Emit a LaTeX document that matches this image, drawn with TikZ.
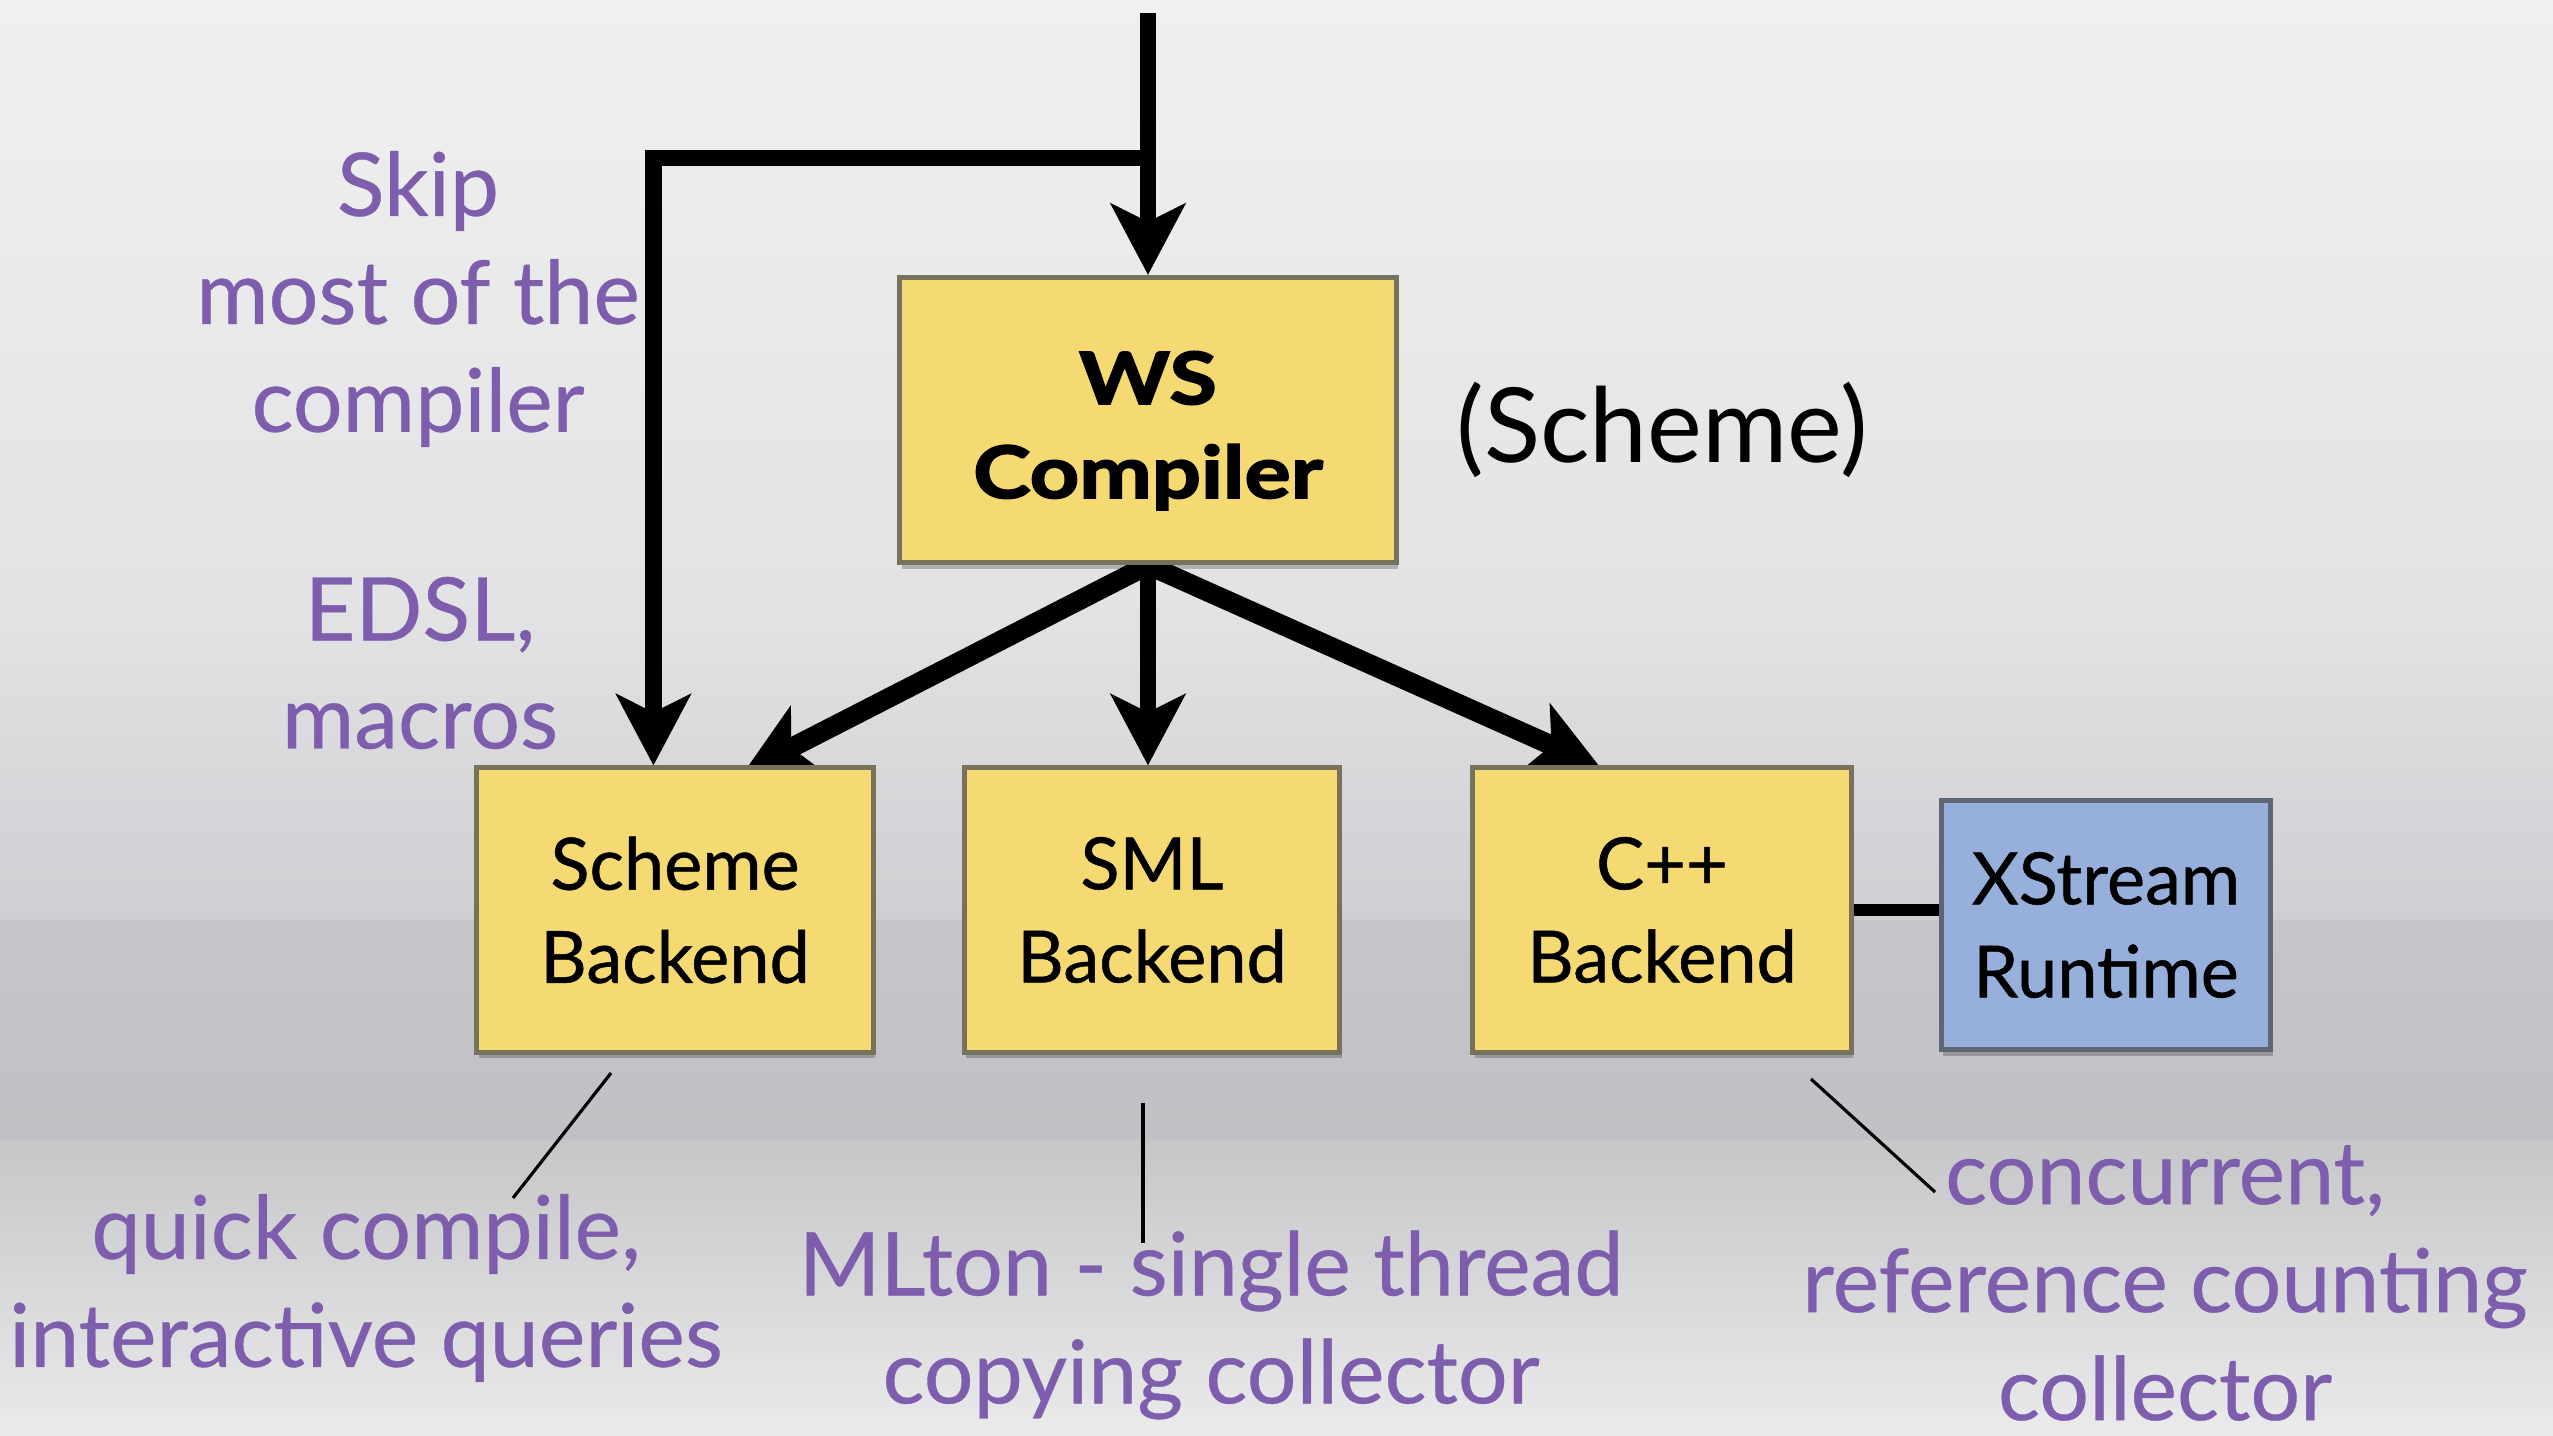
\documentclass[tikz,border=0pt]{standalone}
\usepackage{fontspec}
\setmainfont{Lato}
\newfontfamily\wsfont[FakeStretch=1.2,FakeBold=2.5]{Lato}
\newfontfamily\boxfont[FakeBold=0.7]{Lato}
\newfontfamily\notefont[FakeBold=0.4]{Lato}
\usetikzlibrary{arrows.meta,shadows,calc}

\definecolor{bgA}{HTML}{F0F0F0}
\definecolor{bgB}{HTML}{E3E3E5}
\definecolor{bgC}{HTML}{CFCFD3}
\definecolor{bgD}{HTML}{C6C6CA}
\definecolor{bgE}{HTML}{C1C1C5}
\definecolor{bgF}{HTML}{C7C7CA}
\definecolor{bgG}{HTML}{EAEAEB}
\definecolor{boxyellow}{HTML}{F5D973}
\definecolor{boxedge}{HTML}{77725C}
\definecolor{rtblue}{HTML}{97B0DB}
\definecolor{rtedge}{HTML}{5E6573}
\definecolor{notepurple}{RGB}{126,94,172}

\pgfdeclarelayer{backdrop}
\pgfdeclarelayer{wires}
\pgfsetlayers{backdrop,wires,main}

\begin{document}
\begin{tikzpicture}[x=0.01cm, y=-0.01cm,
  box/.style={draw=boxedge, line width=1.4pt, fill=boxyellow, inner sep=0pt,
    align=center, minimum height=2.84cm,
    font=\boxfont\fontsize{20.5pt}{26.5pt}\selectfont,
    drop shadow={shadow xshift=0.02cm, shadow yshift=-0.06cm,
      opacity=0.22, fill=black}},
  runtime/.style={box, draw=rtedge, fill=rtblue},
  head/.style={-{Stealth[length=0.71cm, width=0.74cm, inset=0.18cm]}},
  flow/.style={head, line width=4.8pt},
  fan/.style={head, line width=5.6pt},
  link/.style={line width=3.4pt},
  leader/.style={line width=0.9pt},
  note/.style={text=notepurple, align=center, inner sep=0pt,
    font=\notefont\fontsize{25pt}{30.7pt}\selectfont}
]
\useasboundingbox (0,0) rectangle (2553,1435);

% backdrop in thin bands: light at the top, darker under the boxes, light again below
\begin{pgfonlayer}{backdrop}
\foreach \i in {0,...,59} {
  \pgfmathsetmacro\p{100*\i/59}
  \fill[bgB!\p!bgA] (0,\i*10) rectangle (2553,\i*10+11);
}
\foreach \i in {0,...,31} {
  \pgfmathsetmacro\p{100*\i/31}
  \fill[bgC!\p!bgB] (0,600+\i*10) rectangle (2553,611+\i*10);
}
\foreach \i in {0,...,21} {
  \pgfmathsetmacro\p{100*\i/21}
  \fill[bgE!\p!bgD] (0,920+\i*10) rectangle (2553,931+\i*10);
}
\foreach \i in {0,...,29} {
  \pgfmathsetmacro\p{100*\i/29}
  \fill[bgG!\p!bgF] (0,1140+\i*10) rectangle (2553,1151+\i*10);
}
\end{pgfonlayer}

% boxes (the invisible rule in the first line lowers the compiler title a little)
\node[box, minimum width=4.96cm, minimum height=2.85cm,
  font=\wsfont\bfseries\fontsize{20.5pt}{26.7pt}\selectfont] (ws) at (1148,420)
  {\rule{0pt}{0.74cm}WS\\Compiler};
\node[box, minimum width=3.96cm] (scm) at (675,910) {Scheme\\Backend};
\node[box, minimum width=3.75cm] (sml) at (1152,910) {SML\\Backend};
\node[box, minimum width=3.78cm] (cpp) at (1662,910) {C++\\Backend};
\node[runtime, minimum width=3.29cm, minimum height=2.49cm] (xs) at (2106,925) {XStream\\Runtime};

% connectors, kept beneath the boxes
\coordinate (src) at (1148,13);
\coordinate (split) at (1148,158);
\coordinate (scmin) at ($(scm.north west)+(179,0)$);
\coordinate (tipL) at (744,772);
\coordinate (tipR) at (1600,767);

\begin{pgfonlayer}{wires}
\draw[flow] (src) -- (ws.north);
\draw[flow] (split) -| (scmin);
\draw[flow] (ws.south) -- (ws.south |- sml.north);
\draw[fan] (ws.south) -- (tipL);
\draw[fan] (ws.south) -- (tipR);
\draw[link] (cpp.east) -- (cpp.east -| xs.west);
\end{pgfonlayer}

% side labels
\node[font=\fontsize{29.5pt}{35pt}\selectfont, inner sep=0pt] (lang) at (1662,430) {(Scheme)};
\node[note] (skip) at (418,299) {Skip\\most of the\\compiler};
\node[note] (edsl) at (420,663) {EDSL,\\macros};
\node[note] (quick) at (366,1288) {quick compile,\\interactive queries};
\node[note] (mlton) at (1211,1325) {MLton - single thread\\copying collector};
\node[note] (conc) at (2165,1283) {concurrent,\\reference counting\\collector};

% leader strokes from backends to their notes
\coordinate (qa) at (611,1073);
\coordinate (qb) at (513,1198);
\coordinate (ma) at (1143,1103);
\coordinate (mb) at (1143,1243);
\coordinate (ca) at (1811,1079);
\coordinate (cb) at (1935,1192);
\draw[leader] (qa) -- (qb);
\draw[leader] (ma) -- (mb);
\draw[leader] (ca) -- (cb);
\end{tikzpicture}
\end{document}
